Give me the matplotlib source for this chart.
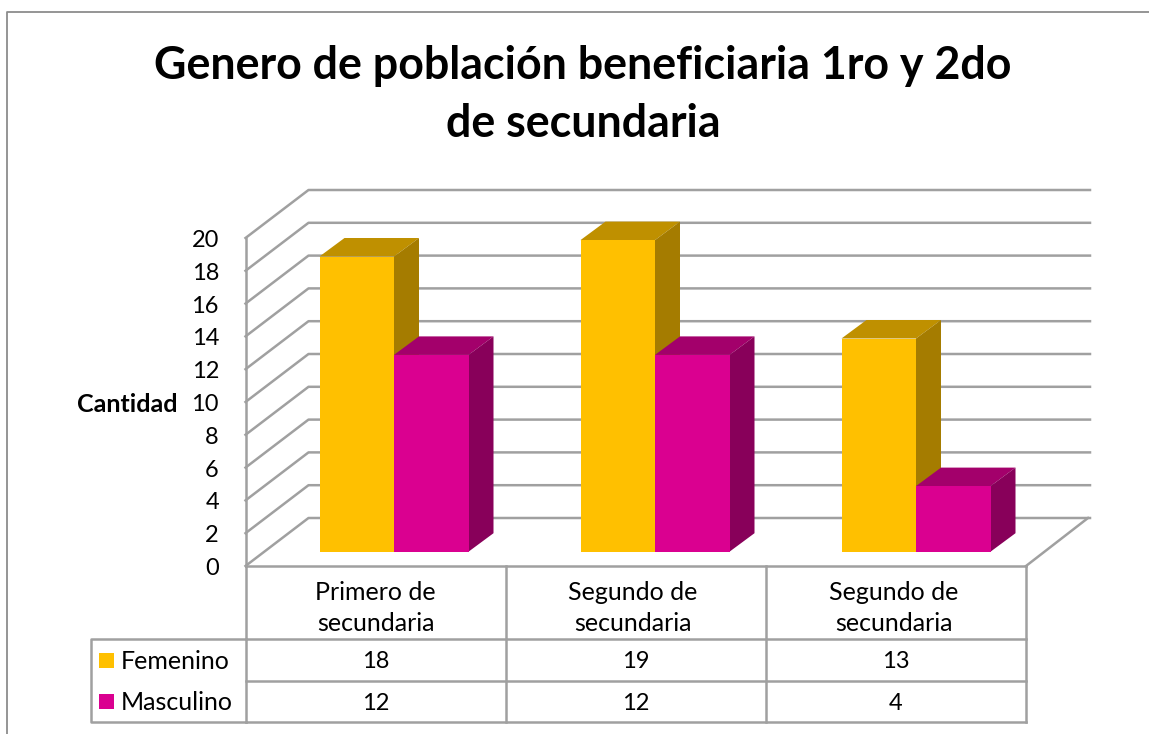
import matplotlib
matplotlib.use('Agg')
import matplotlib.pyplot as plt
from matplotlib.patches import Polygon, Rectangle

categorias = ['Primero de\nsecundaria', 'Segundo de\nsecundaria', 'Segundo de\nsecundaria']
femenino = [18, 19, 13]
masculino = [12, 12, 4]
series = ['Femenino', 'Masculino']
ticks = list(range(0, 21, 2))
titulo = 'Genero de población beneficiaria 1ro y 2do\nde secundaria'

plt.rcParams['font.family'] = ['Lato', 'DejaVu Sans']

W, H = 1149, 734
GRIS = '#a0a0a0'
AMAR = ('#ffc000', '#bf9000', '#a57c00')
MAG = ('#da0090', '#a3006b', '#88005a')

fig = plt.figure(figsize=(W / 100, H / 100), dpi=100)
ax = fig.add_axes([0, 0, 1, 1])
ax.set_xlim(0, W)
ax.set_ylim(H, 0)
ax.axis('off')

# escala del eje y, en pixeles
x0, x1 = 245.5, 1026
y0 = 566
esc = 16.4
dx, dy = 63, -48


def ypix(v):
    return y0 - v * esc


# marco
ax.plot([7, 7, W], [H, 12, 12], color='#8c8c8c', lw=1.3)

# paredes y rejilla
for t in ticks:
    ax.plot([x0, x0 + dx, 1090], [ypix(t), ypix(t) + dy, ypix(t) + dy], color=GRIS, lw=1.8, zorder=1)
    ax.text(219, ypix(t) + 2.5, str(t), ha='right', va='center', fontsize=17, color='black')
ax.plot([x0, x0], [ypix(0), ypix(20)], color=GRIS, lw=1.8, zorder=1)
ax.plot([x1, x1 + dx - 1], [ypix(0), ypix(0) + dy], color=GRIS, lw=1.8, zorder=1)


def barra(x, v, colores, z):
    w = 74.5
    bd, bh = 25, -18.5
    base = y0 - 14.3
    top = base - v * esc
    ax.add_patch(Polygon([(x, top), (x + bd, top + bh), (x + w + bd, top + bh), (x + w, top)], fc=colores[1], ec='none', zorder=z))
    ax.add_patch(Polygon([(x + w, top), (x + w + bd, top + bh), (x + w + bd, base + bh), (x + w, base)], fc=colores[2], ec='none', zorder=z))
    ax.add_patch(Rectangle((x, top), w, base - top, fc=colores[0], ec='none', zorder=z))


for i, x in enumerate([319.5, 580.5, 841.5]):
    barra(x, femenino[i], AMAR, 2 + i)
    barra(x + 74.5, masculino[i], MAG, 2.5 + i)

# tabla de datos
fil = [566, 639, 680.5, 721.5]
col = [245.5, 505.5, 766, 1026]
for y in fil:
    ax.plot([x0, x1], [y, y], color=GRIS, lw=1.8, zorder=6)
for x in col:
    ax.plot([x, x], [fil[0], fil[3]], color=GRIS, lw=1.8, zorder=6)
ax.plot([x0, 90.5, 90.5, x0], [fil[1], fil[1], fil[3], fil[3]], color=GRIS, lw=1.8, zorder=6)

for i, ajuste in enumerate([0, -3, -2.5]):
    xc = (col[i] + col[i + 1]) / 2
    ax.text(xc + ajuste, 608, categorias[i], ha='center', va='center', fontsize=18, linespacing=1.4)
    ax.text(xc, 661.5, str(femenino[i]), ha='center', va='center', fontsize=17)
    ax.text(xc, 703, str(masculino[i]), ha='center', va='center', fontsize=17)

for nombre, y, c in zip(series, [660, 701.5], [AMAR[0], MAG[0]]):
    ax.add_patch(Rectangle((99, y - 7.5), 15, 15, fc=c, ec='none', zorder=6))
    ax.text(121, y + 1.5, nombre, ha='left', va='center', fontsize=18)

ax.text(178, 405, 'Cantidad', ha='right', va='center', fontsize=18, fontweight='bold')
ax.text(583, 95, titulo, ha='center', va='center', fontsize=32.2, fontweight='bold', linespacing=1.46)

fig.savefig('out.png', dpi=100)
